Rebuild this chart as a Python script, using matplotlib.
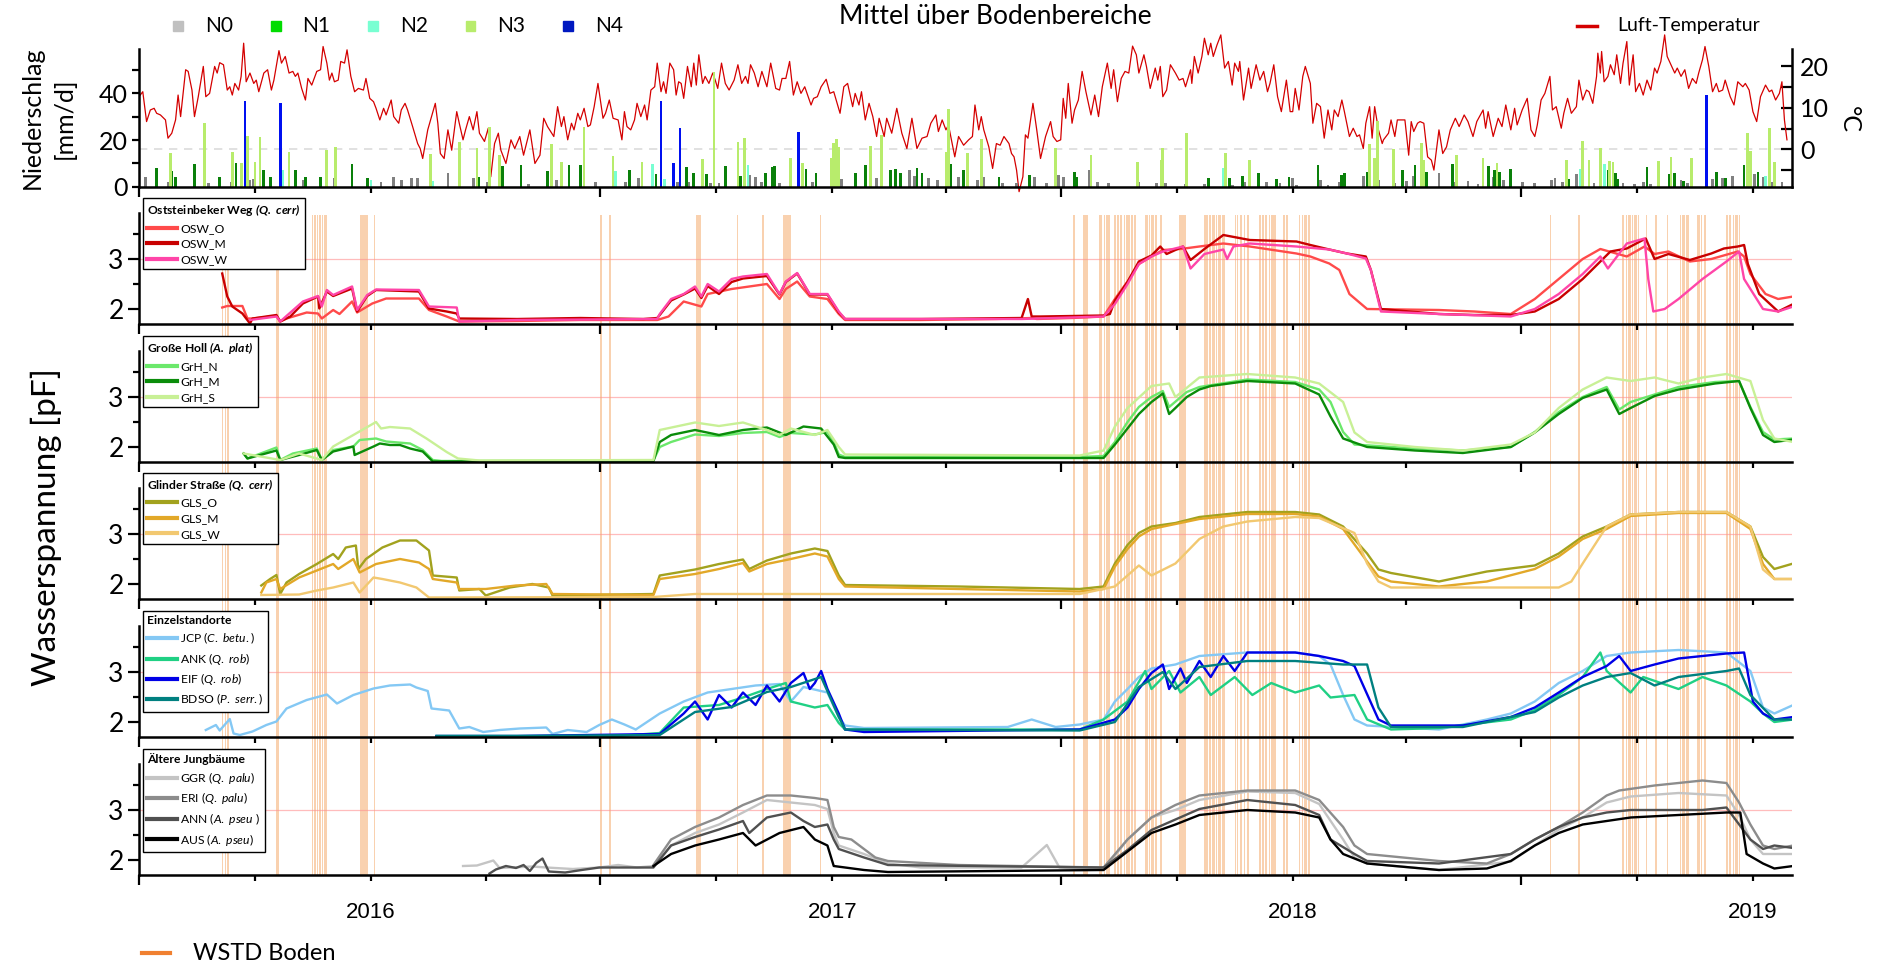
import numpy as np
import pandas as pd
import matplotlib
matplotlib.use('Agg')
import matplotlib.pyplot as plt
from matplotlib.lines import Line2D
from matplotlib.patches import Rectangle
import matplotlib.transforms as mtransforms

plt.rcParams['font.family'] = ['Lato', 'DejaVu Sans']
plt.rcParams['mathtext.fontset'] = 'custom'
plt.rcParams['mathtext.rm'] = 'Lato'
plt.rcParams['mathtext.it'] = 'Lato:italic'
plt.rcParams['mathtext.bf'] = 'Lato:bold:italic'

BASE = '2015-07-01'
END = '2019-02-01'

# ---------------- data: days since 2015-07-01 ----------------
temp_day = [1,3,6,9,12,14,17,21,23,26,29,31,33,37,39,42,44,47,51,53,
    56,60,62,64,67,70,72,74,76,79,81,83,85,88,91,93,95,99,102,105,
    107,111,113,116,119,122,124,126,129,132,134,137,141,144,146,149,151,153,155,158,
    160,163,165,168,171,174,178,180,183,186,188,191,194,196,200,202,206,208,211,213,
    217,221,223,225,229,232,235,237,239,242,245,248,252,254,257,259,262,265,268,270,
    274,277,279,282,285,287,291,295,298,302,305,310,314,318,321,324,
    329,332,335,337,340,343,345,348,350,353,356,358,361,364,368,370,373,376,380,383,
    385,387,390,393,395,398,401,403,406,409,411,414,416,418,421,424,426,428,430,432,
    435,438,440,442,444,447,449,452,455,457,459,462,465,468,472,475,478,481,483,485,
    488,491,494,498,501,505,508,510,513,516,519,522,525,528,533,535,538,541,545,548,
    551,556,559,562,566,568,571,573,576,579,582,585,587,591,593,597,601,605,609,613,
    617,621,625,628,632,634,637,640,642,647,650,654,658,
    661,663,666,668,670,674,677,680,683,686,690,692,694,696,698,701,703,705,709,712,
    715,719,723,725,728,731,733,735,737,740,742,745,748,751,755,758,761,764,768,771,
    773,776,779,782,785,788,791,793,797,799,802,806,808,810,812,815,818,822,825,828,
    830,834,835,837,840,843,845,848,850,852,855,858,861,864,867,869,872,873,876,880,
    882,886,889,892,895,897,900,903,906,910,913,915,917,920,923,925,929,931,934,937,
    940,943,946,948,951,954,956,960,963,966,968,971,973,976,978,980,983,986,
    987,991,993,996,998,1004,1007,1009,1011,1014,1016,1019,1022,1025,1027,1031,1034,1037,1040,1044,
    1047,1051,1054,1058,1061,1066,1068,1070,1074,1078,1081,1084,1088,1091,1093,1097,1101,1104,1107,1109,
    1112,1115,1119,1121,1124,1128,1130,1133,1136,1140,1142,1145,1148,1150,1153,1156,1157,1159,1160,1162,
    1165,1167,1170,1172,1175,1177,1180,1182,1185,1187,1190,1193,1196,1199,1202,1204,1207,1210,1212,1215,
    1218,1220,1223,1226,1229,1232,1235,1237,1240,1242,1245,1248,1251,1253,1256,1258,1262,1265,1268,1272,
    1274,1277,1280,1283,1286,1290,1293,1295,1298,1301,1303,1305,1307]
temp_val = [13.1,13.9,6.7,9.5,9.9,8.7,8.3,7.1,2.7,3.9,7.1,13.1,7.9,19.2,18.8,14.3,7.9,12.7,20.0,12.7,
    13.5,20.0,18.4,20.9,20.4,14.3,15.1,13.1,15.9,14.3,17.6,25.6,16.3,18.4,15.9,16.7,13.9,18.4,19.2,14.3,
    16.7,23.8,20.8,22.4,18.4,18.8,17.6,18.4,14.7,11.9,17.1,15.5,18.8,19.2,24.8,20.8,16.7,18.4,16.3,16.7,
    21.2,20.8,24.0,17.6,13.9,14.7,14.3,17.1,12.3,11.5,9.9,7.1,9.9,8.3,11.9,7.9,6.3,9.5,11.1,9.5,
    5.5,1.4,0.2,-2.2,4.7,7.9,11.1,6.3,-1.0,-2.2,4.7,-0.2,9.1,6.3,2.3,4.7,7.9,4.7,9.1,3.9,
    1.9,5.1,-6.6,1.4,3.9,-0.2,-3.4,2.3,0.2,3.1,-1.4,4.7,-3.4,-1.4,7.5,5.5,
    3.1,10.3,5.5,7.9,2.3,6.3,4.7,8.7,7.1,9.9,5.5,5.9,10.3,15.9,7.5,8.7,11.9,7.5,7.1,2.3,
    9.1,5.5,4.7,7.1,11.1,7.9,10.7,7.1,14.3,15.1,20.8,13.9,16.3,13.5,20.8,19.2,13.1,16.3,15.9,12.3,
    20.0,15.1,20.8,15.5,22.8,15.9,17.6,15.9,18.4,16.7,14.7,20.8,15.9,14.3,16.7,20.4,15.9,17.6,15.9,20.4,
    18.4,15.1,18.8,15.1,20.8,14.7,14.3,17.1,17.1,21.2,13.1,16.3,13.5,15.1,10.7,12.3,12.7,15.1,16.9,13.5,
    13.9,8.7,15.1,15.9,10.3,13.5,10.7,13.9,7.1,11.1,7.9,3.1,7.5,3.1,7.5,3.9,9.9,3.9,0.2,7.5,
    0.2,2.7,3.1,6.3,8.3,4.3,7.1,4.7,5.9,-1.8,3.1,1.0,2.3,
    3.1,10.7,4.7,7.9,4.7,0.6,-4.6,1.4,1.0,3.1,1.4,-1.0,-1.8,-5.0,-10.2,-6.6,3.5,2.7,11.1,4.7,
    -2.2,3.1,6.7,3.1,1.9,2.3,12.3,7.5,15.9,6.3,9.5,11.9,18.8,13.9,8.3,13.1,7.9,15.1,20.8,14.7,
    19.2,11.5,17.1,18.8,18.4,24.9,22.8,18.4,22.8,20.0,14.7,19.6,16.7,20.0,12.7,14.3,20.4,18.4,16.7,17.1,
    15.1,19.2,15.9,22.4,18.4,22.4,26.8,22.8,25.6,22.4,25.2,27.6,19.6,21.2,15.5,20.8,18.8,21.2,11.9,19.6,
    14.7,20.4,16.7,18.8,13.9,15.9,20.4,12.7,9.1,16.7,9.1,9.1,14.7,9.5,17.6,20.0,15.9,6.3,11.1,10.3,
    2.7,9.5,4.7,9.5,7.9,11.9,9.1,3.1,5.1,3.1,3.5,0.2,6.3,10.3,2.7,10.3,4.7,1.4,
    2.3,3.9,7.1,3.1,7.1,7.1,-1.4,6.7,4.3,6.3,6.7,6.3,-1.8,-2.6,-5.0,4.7,-1.0,0.6,4.7,7.5,
    5.5,8.3,6.7,3.1,6.7,9.5,5.1,9.1,3.1,7.5,5.5,10.7,4.7,9.9,5.9,9.5,12.3,4.7,3.1,5.9,
    11.9,13.5,17.6,9.5,10.3,5.1,8.7,12.3,8.7,10.3,16.7,11.9,14.3,13.9,11.1,17.6,23.2,18.4,23.6,16.3,
    17.6,20.4,18.0,22.8,15.9,20.8,26.0,15.5,22.8,13.9,15.9,13.1,16.7,14.3,19.6,18.4,21.2,27.6,22.4,20.4,
    18.4,19.6,17.6,19.2,14.7,17.1,15.9,18.4,21.6,24.8,20.0,13.9,15.9,13.9,14.3,16.7,12.7,10.7,16.3,15.1,
    15.9,14.3,9.1,6.7,12.7,15.5,13.9,14.3,11.9,13.5,16.3,7.1,2.3]

N0 = [(5,4.3),(23,2.1),(55,1.7),(73,2.1),(88,2.9),(91,3.1),(130,2.9),(155,3.6),(192,2.1),(202,4.3),
      (208,2.9),(216,3.9),(221,3.6),(245,5.7),(254,1.7),(265,3.6),(276,2.1),(309,1.1),
      (331,2.9),(362,2.1),(378,3.6),(386,2.1),(396,3.6),(427,2.1),(436,2.1),(453,1.7),(460,1.7),(484,5.0),
      (489,4.3),(494,2.1),(508,1.7),(534,2.1),(557,3.1),(580,3.6),(585,3.6),(611,7.1),(615,4.6),(626,3.6),
      (633,2.9),(650,4.3),(665,2.9),(670,4.3),(682,2.9),(685,1.7),(696,1.4),(710,4.3),(720,1.7),(729,5.0),
      (733,4.3),(743,3.1),(754,7.1),(760,2.1),(769,1.4),(793,2.1),(807,1.4),(814,1.4),(830,1.0),(845,1.1),
      (867,0.7),(877,2.1),(894,2.1),(905,1.7),(915,3.9),(918,0.7),(937,2.9),(943,0.7),(952,2.1),(971,4.6),
      (983,2.9),(996,1.4),(1005,2.6),(1011,4.6),(1017,1.1),(1031,5.7),(1043,2.1),(1054,2.6),(1062,1.1),
      (1074,4.3),(1082,2.9),(1097,2.1),(1107,1.4),(1120,2.9),(1123,3.6),(1129,2.1),(1140,5.4),(1154,1.7),
      (1177,1.4),(1186,1.1),(1193,2.1),(1199,1.1),(1223,2.9),(1228,1.4),(1248,3.1),(1256,3.6),(1264,4.6),
      (1273,5.4),(1281,5.4),(1288,4.3),(1295,2.1),(1303,2.1)]
N1 = [(14,7.9),(26,6.9),(29,4.3),(44,9.6),(64,4.3),(77,10.0),(99,7.1),(104,4.3),(124,7.1),(132,4.3),
      (144,4.0),(169,9.7),(181,3.6),(269,4.3),(288,8.9),(303,9.3),(324,6.9),(341,9.3),(350,9.3),(389,7.1),
      (410,5.3),(434,8.6),(440,6.0),(450,5.4),(465,8.9),(477,4.6),(497,6.0),(502,8.3),(504,8.9),(529,7.4),
      (537,5.7),(568,6.0),(576,9.3),(596,7.1),(600,7.4),(604,5.7),(617,8.1),(621,5.7),(644,9.6),(654,7.1),
      (682,4.3),(706,5.0),(742,6.4),(744,4.3),(848,3.6),(865,3.6),(875,4.7),(888,6.0),(902,3.1),(912,4.3),
      (935,9.3),(954,5.0),(956,5.7),(974,6.4),(1002,7.1),(1012,9.3),(1021,6.4),(1042,9.7),(1070,8.9),
      (1075,7.1),(1079,6.4),(1088,7.4),(1134,3.1),(1165,7.1),(1171,5.7),(1173,3.1),(1196,8.3),(1214,5.4),
      (1218,5.7),(1225,2.6),(1251,6.4),(1258,3.6),(1273,9.3),(1284,6.4)]
N2 = [(114,7.1),(184,2.9),(233,2.6),(378,6.9),(407,9.6),(417,3.1),(447,9.3),(483,9.3),(860,7.9),
      (1143,7.4),(1162,9.7),(1290,4.6)]
N3 = [(25,14.6),(52,27.1),(74,14.7),(81,10.3),(86,21.7),(92,10.7),(96,21.1),(119,14.9),(149,15.7),
      (156,17.0),(231,13.9),(254,19.3),(268,16.4),(278,25.7),(286,13.6),(327,18.1),(335,10.7),(353,25.7),
      (376,13.1),(399,10.7),(447,11.7),(456,49.3),(475,19.3),(480,20.7),(517,12.1),(526,10.3),(549,12.1),
      (551,18.6),(553,20.3),(555,17.1),(580,17.6),(589,22.1),(640,15.0),(642,33.3),(657,14.3),(668,20.3),
      (727,16.4),(755,13.6),(792,10.7),(811,11.4),(812,16.4),(831,22.9),(862,14.3),(881,11.4),(976,18.3),
      (980,12.1),(982,28.3),(995,16.0),(1017,18.6),(1019,11.4),(1045,13.6),(1066,12.1),(1077,10.0),
      (1132,11.4),(1145,19.7),(1150,11.4),(1159,16.4),(1166,11.1),(1169,10.7),(1205,11.1),(1215,12.9),
      (1231,12.1),(1276,22.9),(1278,15.4),(1293,25.0),(1297,10.4)]
N4 = [(84,36.9),(112,36.0),(414,36.9),(424,10.0),(429,25.0),(523,23.6),(1243,39.3)]

WSTD = [(66,67),(68,69),(70,71.5),(109,111),(137,138),(139,140),(141,142),(143,144),(145,146),(147,149),
        (175,182),(186,187),(366,367),(373,374),(442,446),(474,475),(494,496),(511,517),(540,541),
        (741,742),(749,753),(761,764),(765,766),(767,770),(773,775),(776,777),(778,780),(781,782),
        (783,786),(787,788),(789,791),(798,800),(801,802),(803,805),(806,807),(810,811),(825,830),
        (845,848),(849,850),(851,853),(854,855),(856,858),(859,861),(869,870),(871,872),(873,875),
        (876,877),(879,880),(888,890),(891,892),(893,895),(896,897),(898,902),(907,909),(910,911),
        (920,921),(922,923),(924,926),(927,929),(1119,1120),(1141,1143),(1176,1178),(1179,1180),
        (1181,1183),(1184,1185),(1186,1188),(1189,1190),(1195,1196),(1202,1204),(1212,1213),(1222,1223),
        (1224,1226),(1227,1229),(1236,1238),(1239,1240),(1241,1243),(1259,1260),(1261,1263),(1264,1265),
        (1266,1268),(1269,1270)]

OSW_O = [(66,2.03),(70,2.06),(82,2.06),(86,1.81),(90,1.81),(109,1.86),(112,1.75),(117,1.81),(133,1.93),(142,1.91),(145,1.81),(154,1.98),(159,1.9),(169,2.15),(173,1.93),(185,2.11),(196,2.21),(222,2.21),(230,1.98),(244,1.85),(254,1.75),(300,1.76),(350,1.78),(411,1.78),(420,1.85),(432,2.15),(446,2.05),(451,2.3),(470,2.4),(498,2.5),(508,2.2),(513,2.4),(522,2.55),(532,2.25),(546,2.2),(555,1.9),(560,1.78),(620,1.78),(680,1.8),(708,1.82),(712,1.8),(740,1.82),(765,1.85),(774,2.2),(784,2.55),(793,2.9),(803,3.05),(812,3.18),(826,3.2),(841,3.25),(860,3.31),(881,3.25),(918,3.11),(929,3.05),(944,2.91),(952,2.78),(960,2.3),(974,2.0),(1031,1.98),(1059,1.95),(1088,1.9),(1107,2.2),(1126,2.6),(1145,3.0),(1159,3.2),(1180,3.05),(1194,3.25),(1202,3.1),(1213,3.15),(1230,2.95),(1247,3.0),(1268,3.15),(1273,3.05),(1278,2.7),(1290,2.3),(1300,2.2),(1312,2.25)]
OSW_M = [(66,2.71),(70,2.25),(74,2.05),(82,1.91),(88,1.71),(90,1.81),(109,1.88),(112,1.75),(120,1.85),(130,2.11),(142,2.25),(143,2.01),(149,2.35),(154,2.26),(169,2.41),(173,1.95),(181,2.26),(188,2.38),(222,2.35),(230,2.01),(244,1.95),(252,1.91),(254,1.81),(300,1.8),(350,1.82),(400,1.8),(411,1.82),(413,1.88),(422,2.17),(432,2.29),(441,2.41),(446,2.22),(451,2.46),(460,2.3),(470,2.54),(479,2.61),(498,2.66),(508,2.29),(513,2.54),(522,2.71),(532,2.29),(546,2.29),(555,1.93),(560,1.8),(620,1.8),(700,1.82),(705,2.2),(708,1.85),(715,1.85),(765,1.87),(770,1.9),(774,2.17),(784,2.54),(793,2.95),(803,3.07),(810,3.25),(815,3.1),(828,3.25),(834,2.98),(845,3.2),(860,3.48),(881,3.38),(918,3.35),(929,3.28),(944,3.19),(958,3.11),(973,3.05),(977,2.78),(985,2.0),(1031,1.9),(1059,1.88),(1088,1.88),(1107,1.95),(1126,2.2),(1145,2.6),(1159,2.95),(1167,3.15),(1180,3.21),(1195,3.41),(1202,3.0),(1213,3.1),(1230,2.98),(1247,3.11),(1257,3.21),(1268,3.25),(1273,3.28),(1276,2.9),(1285,2.3),(1300,1.95),(1312,2.1)]
OSW_W = [(88,1.78),(109,1.85),(112,1.75),(130,2.15),(142,2.26),(145,2.05),(149,2.38),(154,2.28),(169,2.45),(173,1.98),(181,2.28),(188,2.39),(222,2.38),(230,2.05),(252,2.03),(254,1.75),(300,1.78),(411,1.8),(413,1.9),(422,2.2),(432,2.3),(441,2.45),(446,2.25),(451,2.5),(460,2.35),(470,2.6),(479,2.65),(498,2.7),(508,2.3),(513,2.55),(522,2.72),(532,2.3),(546,2.3),(555,1.95),(560,1.8),(700,1.8),(765,1.85),(774,2.1),(784,2.5),(793,2.9),(803,3.05),(812,3.15),(828,3.25),(834,2.81),(845,3.1),(860,3.19),(863,3.0),(868,3.25),(881,3.31),(918,3.25),(944,3.19),(958,3.11),(973,3.01),(977,2.78),(985,1.95),(1031,1.9),(1088,1.85),(1107,2.0),(1126,2.3),(1145,2.7),(1159,3.05),(1165,2.81),(1180,3.31),(1194,3.41),(1197,2.6),(1201,1.95),(1210,2.0),(1221,2.2),(1240,2.6),(1259,2.95),(1269,3.15),(1273,2.6),(1288,2.0),(1300,1.95),(1312,2.05)]

GrH_N = [(83,1.87),(86,1.77),(109,1.99),(112,1.74),(122,1.87),(141,1.97),(145,1.74),(154,1.94),(170,2.01),(175,2.14),(188,2.17),(196,2.11),(215,2.07),(225,1.94),(233,1.74),(240,1.72),(408,1.73),(413,2.0),(422,2.1),(441,2.25),(460,2.22),(479,2.28),(498,2.3),(508,2.2),(517,2.28),(536,2.25),(546,2.3),(551,2.1),(555,1.85),(560,1.8),(746,1.8),(765,1.82),(774,2.1),(784,2.5),(793,2.8),(803,3.0),(812,3.12),(817,2.8),(831,3.1),(841,3.2),(879,3.35),(917,3.3),(936,3.15),(945,2.9),(955,2.3),(964,2.05),(1012,1.97),(1050,1.93),(1088,2.0),(1107,2.3),(1126,2.7),(1145,3.0),(1164,3.2),(1174,2.75),(1183,2.9),(1202,3.05),(1221,3.2),(1250,3.3),(1269,3.32),(1278,2.8),(1288,2.3),(1297,2.15),(1312,2.17)]
GrH_M = [(83,1.87),(86,1.77),(109,1.93),(112,1.74),(127,1.84),(141,1.94),(145,1.74),(154,1.91),(170,2.01),(171,1.84),(186,2.01),(191,2.07),(199,2.04),(207,2.04),(215,1.97),(225,1.91),(233,1.71),(408,1.72),(413,2.1),(422,2.24),(441,2.34),(460,2.24),(479,2.34),(498,2.39),(513,2.24),(527,2.41),(541,2.37),(551,2.05),(555,1.8),(560,1.78),(765,1.78),(774,2.05),(793,2.66),(803,2.9),(812,3.07),(817,2.66),(822,2.78),(831,3.0),(841,3.15),(850,3.22),(879,3.32),(917,3.27),(936,3.05),(945,2.61),(955,2.17),(974,2.0),(1012,1.93),(1050,1.88),(1088,2.0),(1107,2.29),(1126,2.66),(1145,2.98),(1164,3.15),(1174,2.66),(1183,2.78),(1202,3.02),(1221,3.15),(1250,3.27),(1269,3.32),(1278,2.78),(1288,2.24),(1297,2.1),(1312,2.15)]
GrH_S = [(83,1.87),(112,1.74),(127,1.87),(145,1.74),(154,2.01),(170,2.24),(188,2.5),(192,2.37),(199,2.4),(215,2.37),(228,2.17),(244,1.9),(253,1.77),(270,1.73),(408,1.74),(413,2.34),(441,2.49),(460,2.42),(479,2.49),(498,2.34),(508,2.24),(517,2.37),(536,2.24),(546,2.34),(555,2.0),(560,1.85),(746,1.83),(765,1.93),(774,2.41),(784,2.78),(803,3.22),(817,3.27),(822,3.0),(841,3.39),(879,3.46),(917,3.39),(936,3.27),(955,2.9),(964,2.29),(974,2.1),(1012,2.0),(1050,1.93),(1088,2.05),(1107,2.29),(1126,2.78),(1145,3.15),(1164,3.39),(1183,3.32),(1202,3.39),(1221,3.27),(1240,3.39),(1259,3.46),(1278,3.32),(1288,2.54),(1297,2.17),(1312,2.1)]

GLS_O = [(97,1.97),(104,2.1),(109,2.18),(112,1.8),(117,2.03),(127,2.2),(141,2.4),(154,2.6),(158,2.5),(164,2.73),(172,2.77),(174,2.3),(180,2.5),(193,2.73),(207,2.87),(220,2.87),(230,2.67),(233,2.17),(252,2.13),(254,1.87),(270,1.9),(275,1.77),(294,1.93),(312,2.0),(325,1.93),(328,1.77),(408,1.8),(413,2.17),(441,2.29),(460,2.4),(479,2.49),(484,2.3),(498,2.47),(517,2.61),(536,2.71),(546,2.66),(555,2.17),(560,1.98),(650,1.95),(746,1.9),(765,1.95),(774,2.41),(784,2.78),(793,3.02),(803,3.15),(822,3.22),(841,3.34),(879,3.44),(917,3.44),(936,3.39),(955,3.15),(974,2.61),(983,2.29),(993,2.22),(1031,2.05),(1050,2.15),(1069,2.25),(1107,2.37),(1126,2.61),(1145,2.95),(1164,3.15),(1183,3.39),(1221,3.44),(1259,3.44),(1278,3.15),(1288,2.54),(1297,2.3),(1312,2.41)]
GLS_M = [(97,1.83),(101,2.03),(109,2.1),(112,1.9),(127,2.13),(141,2.27),(154,2.4),(158,2.3),(170,2.5),(175,2.23),(188,2.4),(207,2.5),(222,2.43),(230,2.3),(233,2.1),(252,2.03),(254,1.9),(275,1.9),(299,1.97),(323,2.0),(328,1.8),(408,1.78),(413,2.1),(441,2.2),(460,2.3),(479,2.42),(484,2.25),(498,2.4),(517,2.5),(536,2.61),(546,2.55),(555,2.1),(560,1.95),(650,1.9),(746,1.85),(765,1.9),(774,2.35),(784,2.7),(793,2.95),(803,3.1),(822,3.2),(841,3.3),(879,3.4),(917,3.4),(936,3.35),(955,3.1),(974,2.45),(983,2.15),(993,2.05),(1031,1.95),(1069,2.05),(1107,2.3),(1126,2.55),(1145,2.9),(1164,3.1),(1183,3.36),(1221,3.42),(1259,3.42),(1278,3.1),(1288,2.4),(1297,2.1),(1312,2.1)]
GLS_W = [(97,1.78),(127,1.79),(141,1.87),(154,1.93),(170,2.03),(175,1.83),(186,2.13),(193,2.1),(207,2.03),(220,1.93),(230,1.73),(408,1.74),(441,1.8),(500,1.8),(746,1.8),(774,1.95),(793,2.37),(803,2.17),(822,2.41),(841,2.9),(860,3.15),(879,3.25),(917,3.34),(936,3.32),(964,3.02),(974,2.41),(983,2.05),(993,1.93),(1126,1.93),(1136,2.05),(1145,2.41),(1164,3.15),(1183,3.39),(1221,3.44),(1259,3.44),(1278,3.15),(1288,2.29),(1297,2.1),(1312,2.1)]

JCP = [(53,1.84),(61,1.94),(64,1.83),(72,2.06),(75,1.77),(80,1.74),(90,1.81),(101,1.94),(109,2.01),(117,2.27),(133,2.44),(149,2.55),(157,2.37),(170,2.54),(186,2.67),(199,2.73),(215,2.75),(220,2.69),(229,2.62),(232,2.27),(246,2.23),(254,1.87),(262,1.9),(273,1.8),(286,1.84),(302,1.87),(323,1.89),(328,1.76),(340,1.84),(355,1.8),(365,1.94),(375,2.05),(385,1.95),(394,1.85),(413,2.17),(432,2.41),(451,2.59),(470,2.66),(489,2.73),(508,2.76),(517,2.41),(527,2.7),(546,2.59),(555,2.1),(560,1.93),(575,1.88),(689,1.9),(708,2.05),(727,1.9),(746,1.95),(765,2.05),(774,2.41),(784,2.66),(793,2.9),(803,3.07),(822,3.15),(841,3.32),(879,3.39),(917,3.39),(936,3.32),(945,3.15),(955,2.54),(964,2.05),(974,1.93),(1031,1.85),(1069,2.05),(1088,2.17),(1107,2.41),(1126,2.78),(1145,3.02),(1164,3.32),(1183,3.39),(1221,3.44),(1259,3.39),(1278,3.02),(1288,2.29),(1297,2.17),(1312,2.34)]
ANK = [(236,1.72),(300,1.72),(380,1.72),(413,1.78),(432,2.29),(460,2.34),(479,2.49),(498,2.66),(513,2.78),(517,2.41),(536,2.29),(546,2.34),(555,1.98),(560,1.85),(746,1.85),(765,2.05),(784,2.41),(798,3.02),(803,2.66),(817,3.02),(826,2.59),(841,2.9),(850,2.54),(869,2.9),(883,2.54),(898,2.78),(917,2.59),(936,2.73),(945,2.49),(964,2.54),(974,2.05),(993,1.85),(1031,1.88),(1088,2.05),(1107,2.24),(1126,2.54),(1145,2.9),(1159,3.39),(1164,3.02),(1183,2.59),(1193,2.9),(1221,2.66),(1240,2.9),(1259,2.73),(1278,2.41),(1288,2.17),(1297,2.0),(1312,2.05)]
EIF = [(236,1.72),(300,1.72),(413,1.76),(432,2.17),(441,2.41),(451,2.05),(460,2.54),(470,2.29),(479,2.59),(489,2.34),(498,2.73),(508,2.41),(517,2.78),(527,2.98),(532,2.66),(536,2.78),(541,3.02),(546,2.66),(555,2.17),(560,1.85),(575,1.8),(746,1.85),(774,2.05),(784,2.29),(793,2.66),(803,2.98),(812,3.15),(817,2.66),(826,3.07),(831,2.78),(841,3.22),(850,2.9),(860,3.32),(869,3.02),(879,3.39),(898,3.39),(917,3.39),(936,3.32),(955,3.22),(964,3.12),(983,2.05),(993,1.93),(1050,1.93),(1088,2.1),(1107,2.29),(1126,2.59),(1145,2.9),(1164,3.12),(1174,3.32),(1183,3.02),(1202,3.15),(1221,3.27),(1259,3.37),(1273,3.39),(1280,2.41),(1288,2.17),(1297,2.05),(1312,2.1)]
BDSO = [(236,1.72),(300,1.72),(413,1.74),(441,2.2),(470,2.3),(498,2.6),(517,2.7),(541,2.9),(555,2.1),(560,1.85),(746,1.83),(774,2.0),(793,2.7),(812,3.0),(822,2.66),(841,3.1),(879,3.22),(917,3.22),(955,3.15),(974,3.15),(983,2.29),(993,1.9),(1050,1.9),(1107,2.2),(1126,2.49),(1145,2.73),(1164,2.9),(1183,2.98),(1202,2.73),(1221,2.9),(1259,3.02),(1269,3.07),(1278,2.54),(1297,2.05),(1312,2.05)]

GGR = [(257,1.88),(268,1.89),(281,1.99),(286,1.84),(312,1.87),(323,1.85),(344,1.82),(365,1.85),(380,1.9),(395,1.85),(408,1.88),(422,2.29),(441,2.54),(460,2.71),(479,2.95),(498,3.2),(517,3.15),(536,3.1),(546,3.02),(551,2.54),(555,2.29),(575,2.12),(594,1.93),(620,1.85),(700,1.85),(720,2.3),(730,1.85),(765,1.8),(784,2.41),(803,2.85),(822,3.0),(841,3.2),(879,3.37),(917,3.34),(936,3.12),(955,2.41),(964,2.05),(974,1.93),(1031,1.8),(1088,1.97),(1107,2.29),(1126,2.61),(1145,2.85),(1164,3.15),(1183,3.27),(1221,3.34),(1259,3.29),(1269,2.9),(1278,2.41),(1288,2.12),(1312,2.12)]
ERI = [(408,1.9),(422,2.41),(441,2.66),(460,2.85),(479,3.1),(498,3.29),(517,3.29),(536,3.24),(546,3.2),(551,2.66),(555,2.46),(565,2.41),(575,2.22),(584,2.05),(594,1.98),(650,1.9),(765,1.85),(784,2.41),(803,2.85),(822,3.1),(841,3.29),(879,3.39),(917,3.39),(936,3.2),(955,2.66),(964,2.29),(974,2.12),(1031,1.98),(1069,1.93),(1088,2.12),(1107,2.41),(1126,2.66),(1145,2.95),(1164,3.29),(1174,3.39),(1202,3.49),(1240,3.59),(1259,3.54),(1269,3.15),(1278,2.71),(1288,2.29),(1297,2.22),(1312,2.29)]
ANN = [(278,1.73),(283,1.81),(291,1.88),(299,1.84),(305,1.9),(310,1.78),(315,1.94),(320,2.03),(325,1.77),(338,1.75),(351,1.8),(365,1.85),(408,1.85),(422,2.29),(441,2.46),(460,2.61),(479,2.78),(484,2.54),(498,2.85),(517,2.95),(527,2.78),(536,2.66),(546,2.71),(551,2.41),(555,2.22),(575,2.05),(594,1.9),(765,1.85),(784,2.2),(803,2.6),(841,3.02),(879,3.2),(917,3.1),(936,2.9),(945,2.41),(964,2.12),(974,1.98),(1031,1.93),(1088,2.12),(1107,2.41),(1126,2.66),(1145,2.85),(1164,2.95),(1183,3.0),(1240,3.0),(1259,3.05),(1278,2.41),(1288,2.22),(1297,2.29),(1312,2.24)]
AUS = [(408,1.88),(422,2.12),(441,2.29),(460,2.41),(479,2.54),(489,2.29),(508,2.54),(527,2.66),(536,2.41),(546,2.29),(551,1.88),(575,1.8),(594,1.76),(765,1.8),(784,2.17),(803,2.54),(822,2.71),(841,2.9),(879,3.0),(917,2.95),(936,2.85),(945,2.41),(955,2.12),(974,1.93),(1031,1.8),(1069,1.83),(1088,1.98),(1107,2.29),(1126,2.54),(1145,2.71),(1164,2.78),(1183,2.85),(1221,2.9),(1259,2.95),(1270,2.95),(1275,2.12),(1288,1.93),(1297,1.83),(1312,1.88)]

PANELS = [
    ("Oststeinbeker Weg", "(Q. cerr)", [OSW_O, OSW_M, OSW_W], ["OSW_O", "OSW_M", "OSW_W"], ["", "", ""],
     ['#ff4a4a', '#c80000', '#ff45a8']),
    ("Große Holl", "(A. plat)", [GrH_N, GrH_M, GrH_S], ["GrH_N", "GrH_M", "GrH_S"], ["", "", ""],
     ['#6be86b', '#0a8c0a', '#c8f096']),
    ("Glinder Straße", "(Q. cerr)", [GLS_O, GLS_M, GLS_W], ["GLS_O", "GLS_M", "GLS_W"], ["", "", ""],
     ['#a2a21e', '#e2a828', '#f2c870']),
    ("Einzelstandorte", "", [JCP, ANK, EIF, BDSO], ["JCP", "ANK", "EIF", "BDSO"],
     ["(C. betu.)", "(Q. rob)", "(Q. rob)", "(P. serr.)"],
     ['#84c8f4', '#20d084', '#0000e6', '#008080']),
    ("Ältere Jungbäume", "", [GGR, ERI, ANN, AUS], ["GGR", "ERI", "ANN", "AUS"],
     ["(Q. palu)", "(Q. palu)", "(A. pseu )", "(A. pseu)"],
     ['#c4c4c4', '#8c8c8c', '#505050', '#000000']),
]

PREC_NAMES = ["N0", "N1", "N2", "N3", "N4"]
PREC_SETS = [N0, N1, N2, N3, N4]
PREC_BAR_COLORS = ['#808080', '#0a800a', '#78ffd2', '#b8ec6c', '#0010f0']
PREC_LEG_COLORS = ['#c0c0c0', '#00dc00', '#78ffd2', '#b8ec6c', '#0018c0']

# ---------------- helpers ----------------
def day(s):
    return (pd.Timestamp(s) - pd.Timestamp(BASE)).days

W_PX, H_PX = 1879, 965
fig = plt.figure(figsize=(W_PX / 100, H_PX / 100), dpi=100)
def fx(px): return px / W_PX
def fy(py): return 1 - py / H_PX
XL, XR = 139, 1792
XLIM = (0, day(END))

quarters = pd.date_range('2015-07-01', '2019-01-01', freq='QS')
major_days = [day(q) for q in quarters if q.month == 7]
minor_days = [day(q) for q in quarters if q.month != 7]
year_days = [(day(q), str(q.year)) for q in quarters if q.month == 1]

SPW = 1.8

def style_x(ax):
    ax.set_xlim(XLIM)
    ax.set_xticks(major_days)
    ax.set_xticks(minor_days, minor=True)
    ax.tick_params(axis='x', which='major', direction='out', length=7.5, width=1.6, labelbottom=False)
    ax.tick_params(axis='x', which='minor', direction='out', length=4.5, width=1.6, labelbottom=False)

# ---------------- top panel ----------------
ax_p = fig.add_axes([fx(XL), fy(186.7), fx(XR - XL), 137.7 / H_PX])
ax_t = ax_p.twinx()
ax_p.set_zorder(3)
ax_t.set_zorder(2)
ax_p.patch.set_visible(False)

for data, col in zip(PREC_SETS, PREC_BAR_COLORS):
    xs, ys = zip(*data)
    ax_p.bar(xs, ys, width=2.2, color=col, linewidth=0)

ax_t.axhline(0, color='#dcdcdc', lw=1.2, ls=(0, (5, 4)), zorder=0)
ax_t.plot(temp_day, temp_val, color='#d40000', lw=0.9, clip_on=False)

ax_p.set_ylim(0, 59)
ax_p.set_yticks([0, 20, 40])
ax_p.set_yticks([10, 30, 50], minor=True)
ax_p.tick_params(axis='y', which='both', direction='out', length=5, width=1.6, labelsize=18, pad=3)
ax_t.set_ylim(-9, 24.2)
ax_t.set_yticks([0, 10, 20])
ax_t.set_yticks([-5, 5, 15], minor=True)
ax_t.tick_params(axis='y', which='both', direction='in', length=8, width=1.6, labelsize=18, pad=6)
style_x(ax_p)
style_x(ax_t)
for a in (ax_p, ax_t):
    a.spines['top'].set_visible(False)
    for s in a.spines.values():
        s.set_linewidth(SPW)
ax_p.spines['right'].set_visible(False)
ax_t.spines['left'].set_visible(False)
ax_t.spines['bottom'].set_visible(False)

# ---------------- background WSTD bands ----------------
ax_bg = fig.add_axes([fx(XL), fy(875), fx(XR - XL), (875 - 215) / H_PX])
ax_bg.set_zorder(0)
ax_bg.set_xlim(XLIM)
ax_bg.set_ylim(0, 1)
ax_bg.axis('off')
for s, e in WSTD:
    ax_bg.axvspan(s, e, color='#f4a460', alpha=0.5, lw=0)

# ---------------- pF panels ----------------
bottoms = [324, 462, 599, 737, 875]
PH = 111
axes = []
for (title, tsp, series, names, species, colors), b in zip(PANELS, bottoms):
    ax = fig.add_axes([fx(XL), fy(b), fx(XR - XL), PH / H_PX])
    ax.set_zorder(2)
    ax.patch.set_visible(False)
    ax.axhline(3, color='#ff9090', lw=0.9, alpha=0.6, zorder=0.5)
    for data, c in zip(series, colors):
        xs, ys = zip(*data)
        ax.plot(xs, ys, color=c, lw=1.7)
    ax.set_ylim(1.7, 3.92)
    ax.set_yticks([2, 3])
    ax.set_yticks([2.5, 3.5], minor=True)
    ax.tick_params(axis='y', which='major', direction='out', length=8, width=1.6, labelsize=19, pad=3)
    ax.tick_params(axis='y', which='minor', direction='out', length=4.5, width=1.6)
    style_x(ax)
    ax.spines['top'].set_visible(False)
    ax.spines['right'].set_visible(False)
    for s in ax.spines.values():
        s.set_linewidth(SPW)
    handles = [Line2D([], [], color=c, lw=3) for c in colors]
    labels = []
    for n, sp in zip(names, species):
        if sp:
            labels.append(n + r' $\mathit{' + sp.replace(' ', r'\ ') + '}$')
        else:
            labels.append(n)
    if tsp:
        ttl = title + r' $\mathbf{' + tsp.replace(' ', r'\ ') + '}$'
    else:
        ttl = title
    leg = ax.legend(handles, labels, loc='upper left', bbox_to_anchor=(0.0024, 1.135),
                    title=ttl, fontsize=8.7, title_fontproperties={'weight': 'bold', 'size': 8.7},
                    frameon=True, fancybox=False, edgecolor='black', framealpha=1,
                    borderaxespad=0, handlelength=2.5, handletextpad=0.25, borderpad=0.35,
                    labelspacing=0.38, alignment='left')
    leg.get_frame().set_linewidth(1.0)
    leg.set_zorder(10)
    axes.append(ax)

ax6 = axes[-1]
trans = mtransforms.blended_transform_factory(ax6.transData, ax6.transAxes)
for dd, lab in year_days:
    ax6.text(dd, -0.335, lab, transform=trans, ha='center', va='center', fontsize=16,
             family=['Liberation Sans', 'DejaVu Sans'])

# ---------------- texts & legends ----------------
fig.text(fx(995), fy(17), 'Mittel über Bodenbereiche', ha='center', va='center', fontsize=19)
fig.text(fx(32), fy(118), 'Niederschlag', rotation=90, ha='center', va='center', fontsize=18)
fig.text(fx(64), fy(118), '[mm/d]', rotation=90, ha='center', va='center', fontsize=18)
fig.text(fx(46), fy(527), 'Wasserspannung [pF]', rotation=90, ha='center', va='center', fontsize=24)
fig.text(fx(1849), fy(120), '°C', rotation=270, ha='center', va='center', fontsize=18)

for i, (nm, col) in enumerate(zip(PREC_NAMES, PREC_LEG_COLORS)):
    x0 = 178 + 97.5 * i
    fig.patches.append(Rectangle((fx(x0 - 5), fy(31)), fx(10), 10 / H_PX, color=col,
                                 transform=fig.transFigure, figure=fig))
    fig.text(fx(x0 + 27), fy(26), nm, ha='left', va='center', fontsize=15)

fig.lines.append(Line2D([fx(1577), fx(1597)], [fy(26), fy(26)], color='#d40000', lw=2.5,
                        transform=fig.transFigure, figure=fig))
fig.text(fx(1617), fy(26), 'Luft-Temperatur', ha='left', va='center', fontsize=14)

fig.lines.append(Line2D([fx(142), fx(170)], [fy(953), fy(953)], color='#f08030', lw=3,
                        transform=fig.transFigure, figure=fig))
fig.text(fx(193), fy(953), 'WSTD Boden', ha='left', va='center', fontsize=17)

fig.savefig('out.png', dpi=100, facecolor='white')
